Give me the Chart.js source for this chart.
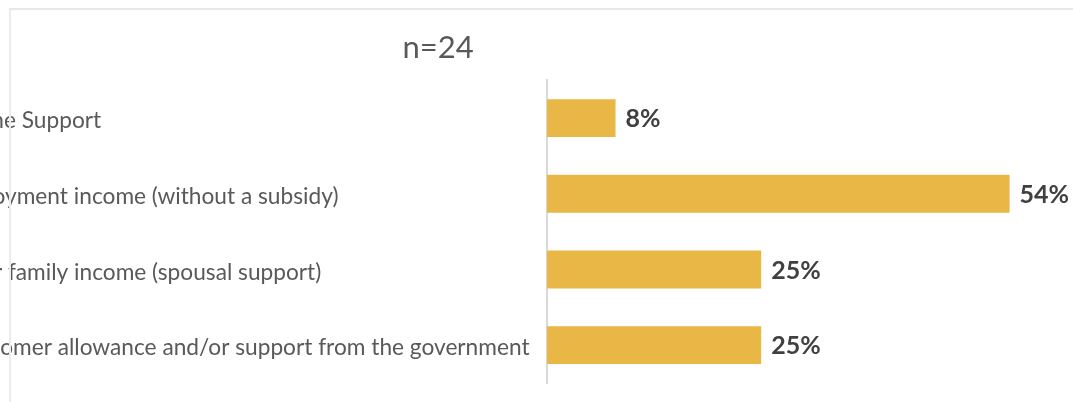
<!DOCTYPE html>
<html>
<head>
<meta charset="utf-8">
<script src="https://cdn.jsdelivr.net/npm/chart.js@4.4.1/dist/chart.umd.min.js"></script>
<style>
  html, body { margin: 0; padding: 0; background: #ffffff; overflow: hidden; }
  body { width: 1073px; height: 402px; position: relative; }
  #wrap { position: absolute; left: -185px; top: 0; width: 1266px; height: 402px; }
  #frame {
    position: absolute; left: 9px; top: 8px; right: 0; bottom: 0;
    border-top: 2px solid #e8e8e8; border-left: 2px solid #ececec;
    pointer-events: none; z-index: 2;
  }
</style>
</head>
<body>
<div id="wrap"><canvas id="chart" width="1266" height="402"></canvas></div>
<div id="frame"></div>
<script>
// Sources of income reported by respondents (n=24), in percent
const categories = [
  "Income Support",
  "Employment income (without a subsidy)",
  "Other family income (spousal support)",
  "Newcomer allowance and/or support from the government"
];
const shares = [8, 54, 25, 25];
const sampleLabel = "n=24";

const FONT = "Lato, 'Open Sans', sans-serif";

// Writes the percentage just past the end of each bar
const valueLabels = {
  id: "valueLabels",
  afterDatasetsDraw(chart) {
    const ctx = chart.ctx;
    const meta = chart.getDatasetMeta(0);
    ctx.save();
    ctx.font = "bold 25px " + FONT;
    ctx.fillStyle = "#404040";
    ctx.textAlign = "left";
    ctx.textBaseline = "middle";
    meta.data.forEach((bar, i) => {
      ctx.fillText(shares[i] + "%", bar.x + 10, bar.y + 1);
    });
    ctx.restore();
  }
};

// Fixed axis widths; the vertical label padding is not needed with offset categories
function fixWidth(w) {
  return function (scale) {
    scale.width = w;
    scale.paddingTop = 0;
    scale.paddingBottom = 0;
  };
}

new Chart(document.getElementById("chart"), {
  type: "bar",
  data: {
    labels: categories,
    datasets: [{
      data: shares,
      xAxisID: "x",
      yAxisID: "y",
      backgroundColor: "#E9B746",
      borderWidth: 0,
      barPercentage: 0.5,
      categoryPercentage: 1.0
    }]
  },
  options: {
    indexAxis: "y",
    responsive: false,
    animation: false,
    layout: { padding: { left: 0, right: 20, top: 0, bottom: 19 } },
    plugins: {
      legend: { display: false },
      tooltip: { enabled: false },
      title: {
        display: true,
        text: sampleLabel,
        color: "#595959",
        font: { family: FONT, size: 31, weight: "normal", lineHeight: 1.2 },
        padding: { top: 29, bottom: 14 }
      }
    },
    scales: {
      x: {
        display: false,
        min: 0,
        max: 60
      },
      y: {
        weight: 0,
        grid: { display: false, drawTicks: false },
        border: { display: true, color: "#d9d9d9", width: 2 },
        ticks: {
          color: "#595959",
          font: { family: FONT, size: 22.7 },
          crossAlign: "far",
          labelOffset: 3,
          padding: 15
        },
        afterFit: fixWidth(732 - 128)
      },
      // empty margin to the left of the category labels
      margin: {
        type: "linear",
        axis: "y",
        position: "left",
        weight: 1,
        grid: { display: false },
        border: { display: false },
        ticks: { display: false },
        afterFit: fixWidth(128)
      }
    }
  },
  plugins: [valueLabels]
});
</script>
</body>
</html>
